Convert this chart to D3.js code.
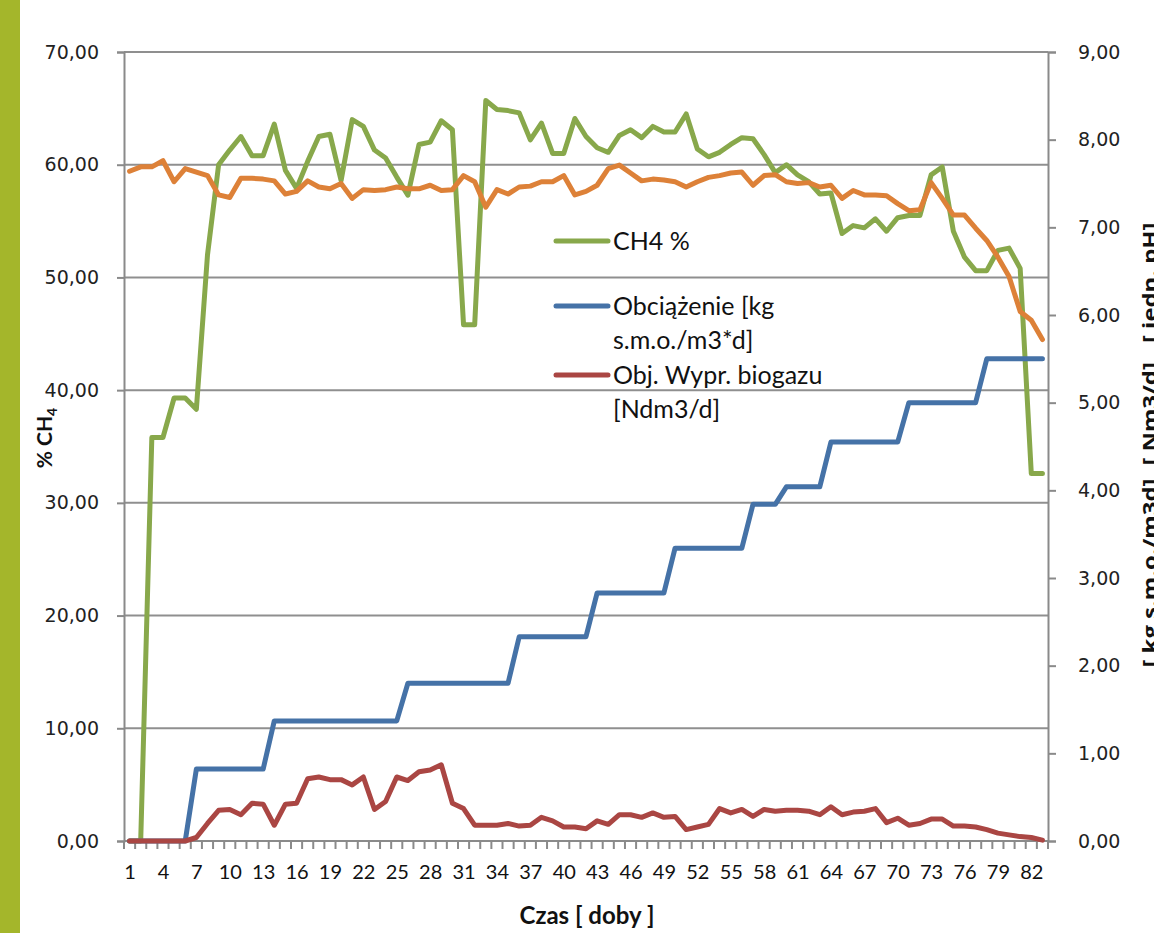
<!DOCTYPE html>
<html><head><meta charset="utf-8">
<script src="https://cdn.jsdelivr.net/npm/d3@7"></script>
<style>html,body{margin:0;padding:0;background:#fff;overflow:hidden}</style>
</head><body>
<svg id="chart" width="1154" height="933"></svg>
<script>
const days = [1,2,3,4,5,6,7,8,9,10,11,12,13,14,15,16,17,18,19,20,21,22,23,24,25,26,27,28,29,30,31,32,33,34,35,36,37,38,39,40,41,42,43,44,45,46,47,48,49,50,51,52,53,54,55,56,57,58,59,60,61,62,63,64,65,66,67,68,69,70,71,72,73,74,75,76,77,78,79,80,81,82,83];
const ch4 = [0,0,35.8,35.8,39.3,39.3,38.3,52.0,60.0,61.3, 62.5,60.8,60.8,63.6,59.5,57.9,60.3,62.5,62.7,58.6, 64.0,63.4,61.3,60.6,58.9,57.3,61.8,62.0,63.9,63.1, 45.8,45.8,65.7,64.9,64.8,64.6,62.2,63.7,61.0,61.0, 64.1,62.5,61.5,61.1,62.6,63.1,62.4,63.4,62.9,62.9, 64.5,61.4,60.7,61.1,61.8,62.4,62.3,60.9,59.3,60.0, 59.1,58.5,57.4,57.5,53.9,54.6,54.4,55.2,54.1,55.3, 55.5,55.5,59.1,59.8,54.1,51.8,50.6,50.6,52.4,52.6, 50.8,32.6,32.6];
const load = [0,0,0,0,0,0, 0.82,0.82,0.82,0.82,0.82,0.82,0.82, 1.37,1.37,1.37,1.37,1.37,1.37,1.37,1.37,1.37,1.37,1.37,1.37, 1.80,1.80,1.80,1.80,1.80,1.80,1.80,1.80,1.80,1.80, 2.33,2.33,2.33,2.33,2.33,2.33,2.33, 2.83,2.83,2.83,2.83,2.83,2.83,2.83, 3.34,3.34,3.34,3.34,3.34,3.34,3.34, 3.84,3.84,3.84, 4.04,4.04,4.04,4.04, 4.55,4.55,4.55,4.55,4.55,4.55,4.55, 5.00,5.00,5.00,5.00,5.00,5.00,5.00, 5.50,5.50,5.50,5.50,5.50,5.50];
const biogas = [0,0,0,0,0,0,0.04,0.20,0.35,0.36, 0.30,0.43,0.42,0.18,0.42,0.43,0.71,0.73,0.70,0.70, 0.64,0.73,0.36,0.45,0.73,0.69,0.79,0.81,0.87,0.43, 0.37,0.18,0.18,0.18,0.20,0.17,0.18,0.27,0.23,0.16, 0.16,0.14,0.23,0.19,0.30,0.30,0.27,0.32,0.27,0.28, 0.13,0.16,0.19,0.37,0.32,0.36,0.28,0.36,0.34,0.35, 0.35,0.34,0.30,0.39,0.30,0.33,0.34,0.37,0.21,0.26, 0.18,0.20,0.25,0.25,0.17,0.17,0.16,0.13,0.09,0.07, 0.05,0.04,0.01];
const ph = [7.64,7.69,7.69,7.76,7.52,7.67,7.63,7.59,7.37,7.34, 7.56,7.56,7.55,7.53,7.38,7.41,7.53,7.46,7.44,7.50, 7.33,7.43,7.42,7.43,7.46,7.44,7.44,7.48,7.42,7.43, 7.59,7.52,7.23,7.43,7.38,7.46,7.47,7.52,7.52,7.59, 7.37,7.41,7.48,7.67,7.71,7.62,7.53,7.55,7.54,7.52, 7.46,7.52,7.57,7.59,7.62,7.63,7.48,7.59,7.60,7.52, 7.50,7.51,7.46,7.48,7.33,7.42,7.37,7.37,7.36,7.27, 7.19,7.20,7.51,7.33,7.14,7.14,6.99,6.85,6.66,6.44, 6.04,5.94,5.72];
const leftTicks = [0,10,20,30,40,50,60,70];
const rightTicks = [0,1,2,3,4,5,6,7,8,9];
const xLabelDays = [1,4,7,10,13,16,19,22,25,28,31,34,37,40,43,46,49,52,55,58,61,64,67,70,73,76,79,82];
const legendLabels = [["CH4 %"],["Obciążenie [kg","s.m.o./m3*d]"],["Obj. Wypr. biogazu","[Ndm3/d]"]];

const colors = {ch4:"#88a84b", load:"#4572a7", biogas:"#aa4643", ph:"#dd8138"};
const gridCol = "#8f8f8f", axisCol = "#8a8a8a";
const L = 124, R = 1048, T = 52, B = 841;

const svg = d3.select("#chart");
const loc = d3.formatLocale({decimal:",", thousands:" ", grouping:[3], currency:["",""]});
const fmt = loc.format(".2f");

svg.append("rect").attr("x",0).attr("y",0).attr("width",20).attr("height",933).attr("fill","#a4b62b");

const xBand = d3.scaleBand().domain(days).range([L,R]).padding(0);
const xPt = d3.scalePoint().domain(days).range([L,R]).padding(0.5);
const yL = d3.scaleLinear().domain([0,70]).range([B,T]);
const yR = d3.scaleLinear().domain([0,9]).range([B,T]);

// gridlines
svg.append("g").selectAll("line").data(leftTicks.filter(d=>d>0)).join("line")
  .attr("x1",L).attr("x2",R).attr("y1",d=>yL(d)).attr("y2",d=>yL(d))
  .attr("stroke",gridCol).attr("stroke-width",2);

// left axis
const gl = svg.append("g").attr("transform",`translate(${L},0)`)
  .call(d3.axisLeft(yL).tickValues(leftTicks).tickFormat(fmt).tickSize(7).tickPadding(18));
gl.select(".domain").attr("stroke",axisCol).attr("stroke-width",2);
gl.selectAll(".tick line").attr("stroke",axisCol).attr("stroke-width",2);
gl.selectAll("text").attr("font-family","DejaVu Sans, Verdana, sans-serif").attr("font-size",19).attr("fill","#222");

// right axis
const gr = svg.append("g").attr("transform",`translate(${R},0)`)
  .call(d3.axisRight(yR).tickValues(rightTicks).tickFormat(fmt).tickSize(8).tickPadding(22));
gr.select(".domain").attr("stroke",axisCol).attr("stroke-width",2);
gr.selectAll(".tick line").attr("stroke",axisCol).attr("stroke-width",2);
gr.selectAll("text").attr("font-family","DejaVu Sans, Verdana, sans-serif").attr("font-size",19).attr("fill","#222");

// x axis
const gx = svg.append("g").attr("transform",`translate(0,${B})`)
  .call(d3.axisBottom(xPt).tickValues(xLabelDays).tickSize(0).tickPadding(24));
gx.select(".domain").remove();
gx.selectAll("text").attr("font-family","Lato, 'Open Sans', sans-serif").attr("font-size",20).attr("fill","#111");
svg.append("line").attr("x1",L).attr("x2",R).attr("y1",B).attr("y2",B).attr("stroke",axisCol).attr("stroke-width",2);
const bounds = days.map(d=>xBand(d)).concat([xBand(days[days.length-1])+xBand.bandwidth()]);
svg.append("g").selectAll("line").data(bounds).join("line")
  .attr("x1",d=>d).attr("x2",d=>d).attr("y1",B).attr("y2",B+8)
  .attr("stroke",axisCol).attr("stroke-width",2);

// lines
function drawLine(vals, y, col){
  const line = d3.line().x((d,i)=>xPt(days[i])).y(d=>y(d));
  svg.append("path").datum(vals).attr("d",line).attr("fill","none")
    .attr("stroke",col).attr("stroke-width",5).attr("stroke-linejoin","round").attr("stroke-linecap","round");
}
drawLine(ch4, yL, colors.ch4);
drawLine(load, yR, colors.load);
drawLine(biogas, yR, colors.biogas);
drawLine(ph, yR, colors.ph);

// legend
const legCols = [colors.ch4, colors.load, colors.biogas];
const legY = [241, 306, 375];
legendLabels.forEach((lines,k)=>{
  svg.append("line").attr("x1",556).attr("x2",608).attr("y1",legY[k]).attr("y2",legY[k])
    .attr("stroke",legCols[k]).attr("stroke-width",5).attr("stroke-linecap","round");
  const t = svg.append("text").attr("x",613).attr("y",legY[k]+9)
    .attr("font-family","Lato, 'Open Sans', sans-serif").attr("font-size",25).attr("fill","#111");
  lines.forEach((s,j)=>t.append("tspan").attr("x",613).attr("dy",j===0?0:34).text(s));
});

// axis titles
svg.append("text").attr("x",587).attr("y",924).attr("text-anchor","middle")
  .attr("font-family","Lato, 'Open Sans', sans-serif").attr("font-weight","bold").attr("font-size",24).attr("fill","#111")
  .text("Czas [ doby ]");
const lt = svg.append("text").attr("transform","translate(52,438) rotate(-90)").attr("text-anchor","middle")
  .attr("font-family","Lato, 'Open Sans', sans-serif").attr("font-weight","bold").attr("font-size",21).attr("fill","#111");
lt.append("tspan").text("% CH");
lt.append("tspan").attr("font-size",14).attr("dy",5).text("4");
svg.append("text").attr("transform","translate(1157,445) rotate(-90)").attr("text-anchor","middle")
  .attr("font-family","'Open Sans', Lato, sans-serif").attr("font-weight","bold").attr("font-size",20).attr("fill","#111")
  .attr("textLength",445).attr("lengthAdjust","spacingAndGlyphs")
  .text("[ kg s.m.o./m3d], [ Nm3/d] , [ jedn. pH]");
</script>
</body></html>
